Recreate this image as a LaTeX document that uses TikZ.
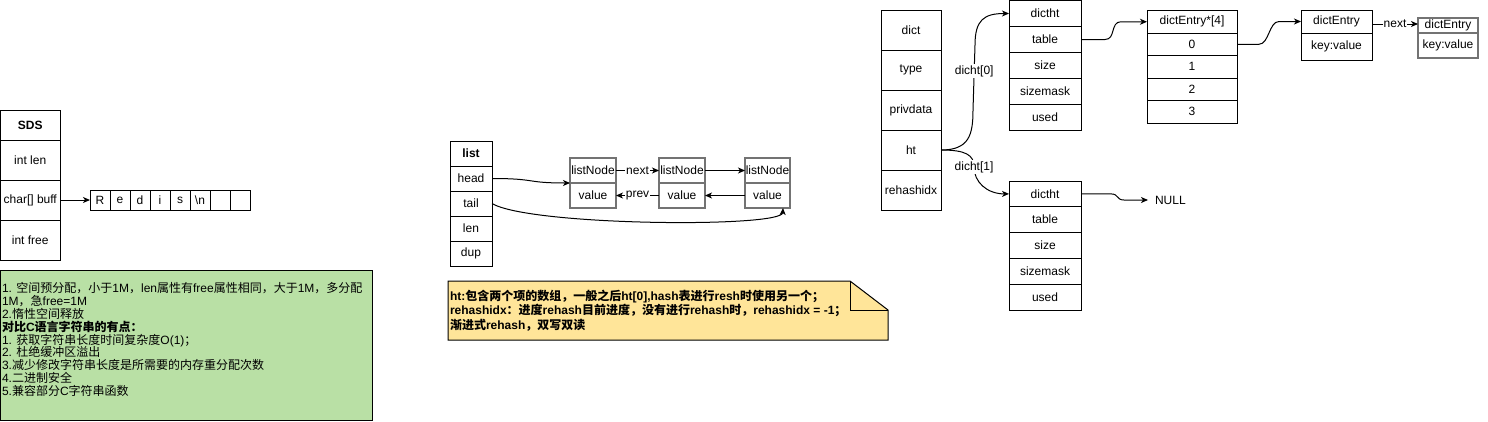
\documentclass[tikz,border=0pt]{standalone}
\usepackage{fontspec}
\setmainfont{Liberation Sans}
\newfontfamily\cjk{Noto Sans CJK SC}
\usetikzlibrary{arrows.meta}
% automatic switch to the CJK font for CJK characters
\XeTeXinterchartokenstate=1
\newXeTeXintercharclass\cjkcls
\newcount\cjkc
\cjkc="4E00
\loop \XeTeXcharclass\cjkc=\cjkcls \advance\cjkc by 1 \ifnum\cjkc<"A000 \repeat
\cjkc="3000
\loop \XeTeXcharclass\cjkc=\cjkcls \advance\cjkc by 1 \ifnum\cjkc<"3040 \repeat
\cjkc="FF00
\loop \XeTeXcharclass\cjkc=\cjkcls \advance\cjkc by 1 \ifnum\cjkc<"FFF0 \repeat
\XeTeXinterchartoks 0 \cjkcls = {\cjk}
\XeTeXinterchartoks 4095 \cjkcls = {\cjk}
\XeTeXinterchartoks \cjkcls 0 = {\rmfamily}
\XeTeXinterchartoks \cjkcls 4095 = {\rmfamily}
\definecolor{notegreen}{HTML}{B9E0A5}
\definecolor{noteyellow}{HTML}{FFE599}
\definecolor{nodegray}{HTML}{737373}
\begin{document}
\begin{tikzpicture}[x=1pt,y=-1pt,
  every node/.style={font=\fontsize{12}{14.4}\selectfont, inner sep=0pt, outer sep=0pt},
  box/.style={draw=black, line width=1pt, anchor=north west},
  gbox/.style={draw=nodegray, line width=1.8pt, anchor=north west},
  arr/.style={draw=black, line width=1pt, -{Stealth[length=7pt,width=6pt,inset=2pt]}},
  lbl/.style={fill=white, inner sep=1pt}]
\useasboundingbox (0,0) rectangle (1488,421);

% ---------------- SDS ----------------
\node[box, minimum width=59.5pt, minimum height=30pt] (sds0) at (0.5,110) {\textbf{SDS}};
\node[box, minimum width=59.5pt, minimum height=40pt] (sds1) at (0.5,140) {int len};
\node[box, minimum width=59.5pt, minimum height=40pt] (sds2) at (0.5,180) {char[] buff};
\node[box, minimum width=59.5pt, minimum height=40pt] (sds3) at (0.5,220) {int free};

\node[box, minimum width=20pt, minimum height=20pt] (a1) at (90,190) {R};
\node[box, minimum width=20pt, minimum height=20pt] (a2) at (110,190) {e};
\node[box, minimum width=20pt, minimum height=20pt] (a3) at (130,190) {d};
\node[box, minimum width=20pt, minimum height=20pt] (a4) at (150,190) {i};
\node[box, minimum width=20pt, minimum height=20pt] (a5) at (170,190) {s};
\node[box, minimum width=20pt, minimum height=20pt] (a6) at (190,190) {\textbackslash n};
\node[box, minimum width=20pt, minimum height=20pt] (a7) at (210,190) {};
\node[box, minimum width=20pt, minimum height=20pt] (a8) at (230,190) {};
\draw[arr] (sds2.east) -- (a1.west);

\node[box, fill=notegreen, minimum width=371.5pt, minimum height=150pt] (gnote) at (0.5,270) {};
\node[anchor=west, align=left, font=\fontsize{12}{12.9}\selectfont] (gtext) at (2,339.5)
 {1. 空间预分配，小于1M，len属性有free属性相同，大于1M，多分配\\
  1M，急free=1M\\
  2.惰性空间释放\\
  \textbf{对比C语言字符串的有点：}\\
  1. 获取字符串长度时间复杂度O(1)；\\
  2. 杜绝缓冲区溢出\\
  3.减少修改字符串长度是所需要的内存重分配次数\\
  4.二进制安全\\
  5.兼容部分C字符串函数};

% ---------------- list ----------------
\node[box, minimum width=42pt, minimum height=25pt] (l0) at (450,141) {\textbf{list}};
\node[box, minimum width=42pt, minimum height=25pt] (l1) at (450,166) {head};
\node[box, minimum width=42pt, minimum height=25pt] (l2) at (450,191) {tail};
\node[box, minimum width=42pt, minimum height=25pt] (l3) at (450,216) {len};
\node[box, minimum width=42pt, minimum height=25pt] (l4) at (450,241) {dup};

\node[gbox, minimum width=46pt, minimum height=25pt] (n1t) at (570,158) {listNode};
\node[gbox, minimum width=46pt, minimum height=25pt] (n1b) at (570,183) {value};
\node[gbox, minimum width=46pt, minimum height=25pt] (n2t) at (659,158) {listNode};
\node[gbox, minimum width=46pt, minimum height=25pt] (n2b) at (659,183) {value};
\node[gbox, minimum width=45pt, minimum height=25pt] (n3t) at (745,158) {listNode};
\node[gbox, minimum width=45pt, minimum height=25pt] (n3b) at (745,183) {value};

\draw[arr] (l1.east) .. controls +(45,0) and +(-45,0) .. (n1t.south west);
\draw[arr] (n1t.east) -- node[lbl]{next} (n2t.west);
\draw[arr] (n2t.east) -- (n3t.west);
\draw[arr] (n3b.west) -- (n2b.east);
\draw[arr] (n2b.west) -- node[lbl]{prev} (n1b.east);
\draw[arr] (l2.east) .. controls (530,226) and (782,228) .. ([xshift=-7pt]n3b.south east);

% note
\draw[line width=1pt, fill=noteyellow] (448,281) -- (850,281) -- (888,310) -- (888,340) -- (448,340) -- cycle;
\draw[line width=1pt] (850,281) -- (850,310) -- (888,310);
\node[anchor=west, align=left, font=\fontsize{12}{14.5}\selectfont\bfseries] (ytext) at (450,310.5)
 {ht:包含两个项的数组，一般之后ht[0],hash表进行resh时使用另一个；\\
  rehashidx：进度rehash目前进度，没有进行rehash时，rehashidx = -1；\\
  渐进式rehash，双写双读};

% ---------------- dict ----------------
\node[box, minimum width=60pt, minimum height=40pt] (d0) at (881,10) {dict};
\node[box, minimum width=60pt, minimum height=40pt] (d1) at (881,50) {type};
\node[box, minimum width=60pt, minimum height=40pt] (d2) at (881,90) {privdata};
\node[box, minimum width=60pt, minimum height=40pt] (d3) at (881,130) {ht};
\node[box, minimum width=60pt, minimum height=40pt] (d4) at (881,170) {rehashidx};

\node[box, minimum width=72pt, minimum height=26pt] (h0) at (1009,0.5) {dictht};
\node[box, minimum width=72pt, minimum height=26pt] (h1) at (1009,26.5) {table};
\node[box, minimum width=72pt, minimum height=26pt] (h2) at (1009,52.5) {size};
\node[box, minimum width=72pt, minimum height=26pt] (h3) at (1009,78.5) {sizemask};
\node[box, minimum width=72pt, minimum height=26pt] (h4) at (1009,104.5) {used};

\node[box, minimum width=72pt, minimum height=25.8pt] (g0) at (1009,181) {dictht};
\node[box, minimum width=72pt, minimum height=25.8pt] (g1) at (1009,206.8) {table};
\node[box, minimum width=72pt, minimum height=25.8pt] (g2) at (1009,232.6) {size};
\node[box, minimum width=72pt, minimum height=25.8pt] (g3) at (1009,258.4) {sizemask};
\node[box, minimum width=72pt, minimum height=25.8pt] (g4) at (1009,284.2) {used};

\node[box, minimum width=90pt, minimum height=22.5pt] (e0) at (1147,10.5) {dictEntry*[4]};
\node[box, minimum width=90pt, minimum height=22.5pt] (e1) at (1147,33) {0};
\node[box, minimum width=90pt, minimum height=22.5pt] (e2) at (1147,55.5) {1};
\node[box, minimum width=90pt, minimum height=22.5pt] (e3) at (1147,78) {2};
\node[box, minimum width=90pt, minimum height=22.5pt] (e4) at (1147,100.5) {3};

\node[box, minimum width=71pt, minimum height=23pt] (f0) at (1301,10) {dictEntry};
\node[box, minimum width=71pt, minimum height=27pt] (f1) at (1301,33) {key:value};

\node[gbox, minimum width=60pt, minimum height=15pt] (k0) at (1418,18) {dictEntry};
\node[gbox, minimum width=60pt, minimum height=25pt] (k1) at (1418,33) {key:value};

\node[anchor=west, inner xsep=7pt] (null) at (1148,200) {NULL};

\draw[arr] (d3.east) .. controls +(28,0) and +(0,25) .. (973,110)
   -- node[lbl,pos=0.6]{dicht[0]} (975,45) .. controls +(0,-25) and +(-25,0) .. (h0.west);
\draw[arr] (d3.east) .. controls +(25,0) and +(0,-12) .. (974,167) node[lbl]{dicht[1]}
   .. controls +(0,15) and +(-22,0) .. (g0.west);
\draw[arr] (h1.east) -- ++(24,0) .. controls +(11,0) and +(-11,0) .. ([xshift=-26pt]e0.west) -- (e0.west);
\draw[arr] (e1.east) -- ++(22,0) .. controls +(10,0) and +(-10,0) .. ([xshift=-22pt]f0.west) -- (f0.west);
\draw[arr] ([yshift=-2.5pt]f0.east) -- node[lbl]{next} ([yshift=1.5pt]k0.west);
\draw[arr] (g0.east) -- ++(30,0) .. controls +(8,0) and +(-8,0) .. ([xshift=-24pt]null.west) -- (null.west);
\end{tikzpicture}
\end{document}
